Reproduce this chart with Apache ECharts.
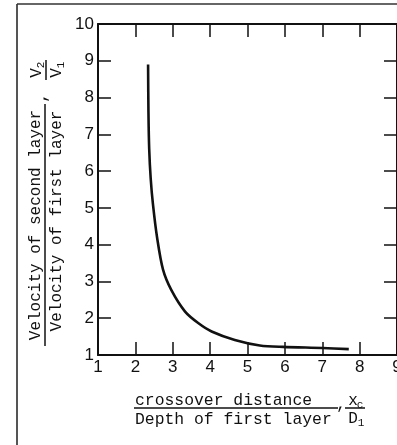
<!DOCTYPE html>
<html>
<head>
<meta charset="utf-8">
<script src="https://cdn.jsdelivr.net/npm/echarts@6/dist/echarts.min.js"></script>
<style>
html,body{margin:0;padding:0;background:#fff;}
#chart{width:397px;height:445px;}
</style>
</head>
<body>
<div id="chart"></div>
<script>
// Data
var xValues = [2.34, 2.35, 2.37, 2.41, 2.47, 2.58, 2.74, 2.96, 3.33, 3.68, 4.04, 4.66, 5.33, 5.95, 7.0, 7.71];
var yValues = [8.9, 7.6, 6.6, 5.8, 5.1, 4.2, 3.32, 2.77, 2.18, 1.87, 1.64, 1.41, 1.26, 1.22, 1.19, 1.16];
var xTickLabels = ['1','2','3','4','5','6','7','8','9'];
var yTickLabels = ['1','2','3','4','5','6','7','8','9','10'];
var yNumerator = 'Velocity of second layer';
var yDenominator = 'Velocity of first layer';
var xNumerator = 'crossover distance';
var xDenominator = 'Depth of first layer';

var points = xValues.map(function (x, i) { return [x, yValues[i]]; });

var ink = '#111';
var mono = '"Liberation Mono", "DejaVu Sans Mono", monospace';
var sans = '"Liberation Sans Narrow", "Liberation Sans", Arial, sans-serif';

var chart = echarts.init(document.getElementById('chart'), null, {renderer: 'canvas'});

function axisBase(extra) {
  var o = {
    type: 'value',
    interval: 1,
    axisLine: {show: true, onZero: false, lineStyle: {color: ink, width: 2}},
    axisTick: {show: true, inside: true, length: 13, lineStyle: {color: ink, width: 1.5}},
    splitLine: {show: false}
  };
  for (var k in extra) o[k] = extra[k];
  return o;
}

var option = {
  animation: false,
  backgroundColor: '#fff',
  grid: {left: 98, top: 24, right: 0, bottom: 90, containLabel: false, outerBoundsMode: 'none'},
  xAxis: [
    axisBase({
      position: 'bottom', min: 1, max: 9,
      axisLabel: {show: true, color: ink, fontFamily: sans, fontSize: 17, margin: 4,
        formatter: function (v) { return xTickLabels[Math.round(v) - 1]; }}
    }),
    axisBase({
      position: 'top', min: 1, max: 9,
      axisLabel: {show: false}
    })
  ],
  yAxis: [
    axisBase({
      position: 'left', min: 1, max: 10,
      axisLabel: {show: true, color: ink, fontFamily: sans, fontSize: 17, margin: 4,
        formatter: function (v) { return yTickLabels[Math.round(v) - 1]; }}
    }),
    axisBase({
      position: 'right', min: 1, max: 10,
      axisLabel: {show: false}
    })
  ],
  series: [{
    type: 'line',
    data: points,
    smooth: 0.3,
    symbol: 'none',
    lineStyle: {color: ink, width: 2.6}
  }],
  graphic: [
    // outer frame
    {type: 'line', shape: {x1: 17, y1: 4, x2: 17, y2: 445}, style: {stroke: '#555', lineWidth: 2}},
    {type: 'line', shape: {x1: 17, y1: 4, x2: 397, y2: 4}, style: {stroke: '#333', lineWidth: 1.5}},
    // y-axis title (rotated, reads bottom to top)
    {
      type: 'group', x: 20, y: 350, rotation: Math.PI / 2,
      children: [
        {type: 'text', x: 125, y: 16, style: {text: yNumerator, font: '16px ' + mono, fill: ink, textAlign: 'center', textVerticalAlign: 'middle'}},
        {type: 'line', shape: {x1: 4, y1: 25, x2: 246, y2: 25}, style: {stroke: ink, lineWidth: 1.5}},
        {type: 'text', x: 129, y: 37, style: {text: yDenominator, font: '16px ' + mono, fill: ink, textAlign: 'center', textVerticalAlign: 'middle'}},
        {type: 'text', x: 252, y: 30, style: {text: ',', font: '16px ' + mono, fill: ink, textAlign: 'center', textVerticalAlign: 'bottom'}},
        {type: 'text', x: 277, y: 17, style: {text: 'V', font: '16px ' + mono, fill: ink, textAlign: 'center', textVerticalAlign: 'middle'}},
        {type: 'text', x: 285, y: 21, style: {text: '2', font: '11px ' + mono, fill: ink, textAlign: 'center', textVerticalAlign: 'middle'}},
        {type: 'line', shape: {x1: 270, y1: 26, x2: 290, y2: 26}, style: {stroke: ink, lineWidth: 1.5}},
        {type: 'text', x: 277, y: 37, style: {text: 'V', font: '16px ' + mono, fill: ink, textAlign: 'center', textVerticalAlign: 'middle'}},
        {type: 'text', x: 285, y: 41, style: {text: '1', font: '11px ' + mono, fill: ink, textAlign: 'center', textVerticalAlign: 'middle'}}
      ]
    },
    // x-axis title
    {
      type: 'group', x: 0, y: 0,
      children: [
        {type: 'text', x: 135, y: 401, style: {text: xNumerator, font: '16.4px ' + mono, fill: ink, textAlign: 'left', textVerticalAlign: 'middle'}},
        {type: 'line', shape: {x1: 134, y1: 408, x2: 338, y2: 408}, style: {stroke: ink, lineWidth: 1.5}},
        {type: 'text', x: 135, y: 420, style: {text: xDenominator, font: '16.4px ' + mono, fill: ink, textAlign: 'left', textVerticalAlign: 'middle'}},
        {type: 'text', x: 341, y: 413, style: {text: ',', font: '16px ' + mono, fill: ink, textAlign: 'center', textVerticalAlign: 'bottom'}},
        {type: 'text', x: 353, y: 401, style: {text: 'x', font: '16px ' + mono, fill: ink, textAlign: 'center', textVerticalAlign: 'middle'}},
        {type: 'text', x: 360, y: 405, style: {text: 'c', font: '11px ' + mono, fill: ink, textAlign: 'center', textVerticalAlign: 'middle'}},
        {type: 'line', shape: {x1: 345, y1: 408, x2: 365, y2: 408}, style: {stroke: ink, lineWidth: 1.5}},
        {type: 'text', x: 353, y: 419, style: {text: 'D', font: '16px ' + mono, fill: ink, textAlign: 'center', textVerticalAlign: 'middle'}},
        {type: 'text', x: 361, y: 423, style: {text: '1', font: '11px ' + mono, fill: ink, textAlign: 'center', textVerticalAlign: 'middle'}}
      ]
    }
  ]
};

chart.setOption(option);
</script>
</body>
</html>
